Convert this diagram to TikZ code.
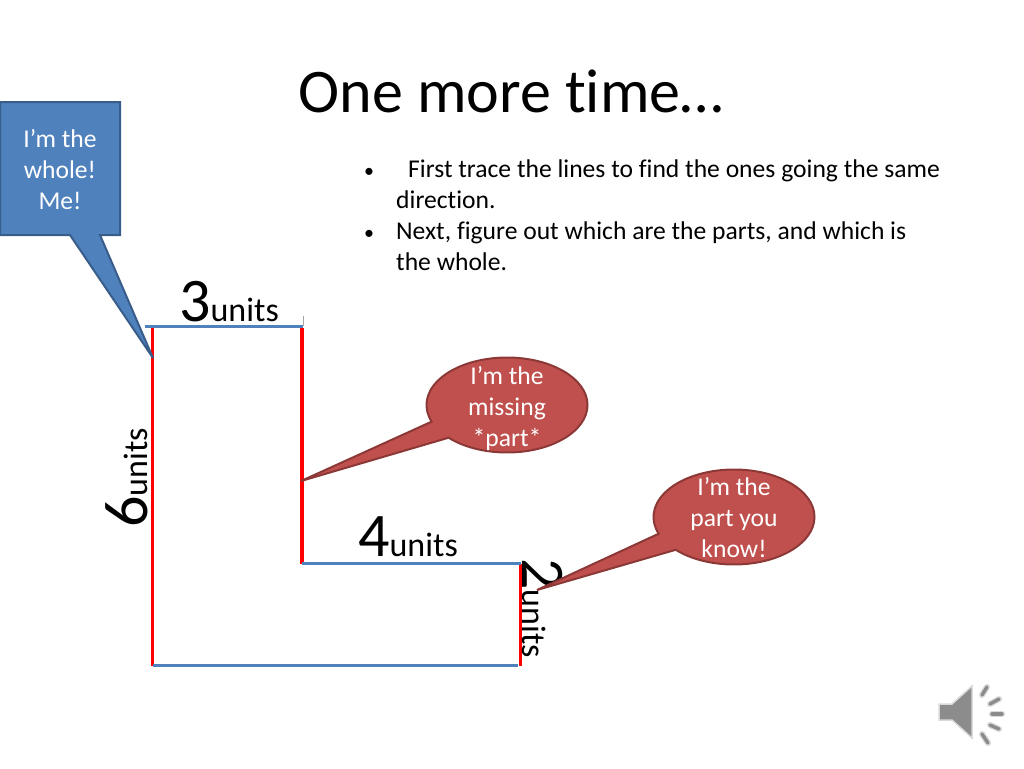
\documentclass[tikz,border=0pt]{standalone}
\usepackage{fontspec}
\setmainfont[Ligatures=NoCommon]{Carlito}
\usetikzlibrary{shapes.geometric,shapes.callouts}
\definecolor{offblue}{HTML}{4F81BD}
\definecolor{offblueline}{HTML}{385D8A}
\definecolor{offred}{HTML}{C0504D}
\definecolor{offredline}{HTML}{8C3836}
\definecolor{pure}{HTML}{FF0000}
\definecolor{speaker}{HTML}{8C8C8C}
\newcommand{\bignum}{\fontsize{62}{66}\selectfont}
\newcommand{\unitword}{\fontsize{34}{38}\selectfont}
\tikzset{
  bodytext/.style={font=\fontsize{25.6}{31}\selectfont, anchor=base west, inner sep=0pt},
  partline/.style={draw=pure, line width=3.8pt},
  dirline/.style={draw=offblue, line width=3.4pt},
  saytext/.style={font=\fontsize{25.6}{31}\selectfont, text=white, align=center},
  talk/.style={ellipse callout, fill=offred, draw=offredline, line width=2pt, inner sep=0pt,
    minimum width=161pt, minimum height=95pt, callout pointer arc=23},
  wave/.style={draw=gray!30, line width=6pt, line cap=round},
  wavein/.style={draw=speaker, line width=3.4pt, line cap=round},
}
\begin{document}
\begin{tikzpicture}[x=1pt,y=-1pt]
\useasboundingbox (0,0) rectangle (1024,768);
% title and the two points
\node[font=\fontsize{62}{66}\selectfont, anchor=base] (title) at (511,112) {One more time…};
\node[bodytext, font=\fontsize{20}{31}\selectfont] (dotA) at (364,177) {•};
\node[bodytext] (lineA) at (408,177.5) {First trace the lines to find the ones going the same};
\node[bodytext] (lineB) at (396,208.5) {direction.};
\node[bodytext, font=\fontsize{20}{31}\selectfont] (dotB) at (364,239) {•};
\node[bodytext] (lineC) at (396,239.5) {Next, figure out which are the parts, and which is};
\node[bodytext] (lineD) at (396,270.5) {the whole.};
% the outline
\coordinate (tl) at (152.5,328);
\coordinate (bl) at (152.5,665.5);
\coordinate (tm) at (302,328);
\coordinate (mm) at (302,563.5);
\coordinate (mr) at (520.5,563.5);
\coordinate (br) at (520.5,665.5);
\draw[gray!70, line width=0.8pt] (303,316) -- (303,326);
\draw[partline] (tl) -- (bl);
\draw[partline] (tm) -- (mm);
\draw[partline] (mr) -- (br);
\draw[dirline] (145,326.5) -- (303,326.5);
\draw[dirline] (mm) -- (mr);
\draw[dirline] (bl) -- (518,665.5);
% the lengths
\node[anchor=base west, inner sep=0pt] (three) at (179,321) {\bignum 3\unitword units};
\node[anchor=base west, inner sep=0pt] (four) at (358,556) {\bignum 4\unitword units};
\node[anchor=base west, inner sep=0pt, rotate=90] (six) at (147,528) {\bignum 6\unitword units};
\node[anchor=base west, inner sep=0pt, rotate=-90] (two) at (522,558) {\bignum 2\unitword units};
% what they say
\draw[fill=offblue, draw=offblueline, line width=2pt]
  (0,102) -- (120,102) -- (120,235) -- (100,235) -- (153,358) -- (70,235) -- (0,235) -- cycle;
\node[saytext] (whole) at (60,170) {I’m the\\whole!\\Me!};
\node[talk, callout absolute pointer={(301,481)}] (missing) at (507,405) {};
\node[saytext] at (507,409) {I’m the\\missing\\*part*};
\node[talk, callout absolute pointer={(537,590)}] (known) at (734,517) {};
\node[saytext] at (734,518) {I’m the\\part you\\know!};
% the speaker
\fill[speaker, draw=gray!30, line width=1.5pt] (939,704) -- (952,704) -- (972,686) -- (972,738) -- (952,720) -- (939,720) -- cycle;
\foreach \xa/\ya/\xb/\yb in {982/695/987/687, 990/704/999/699, 992/714/1002/714, 990/725/999/729, 982/734/988/743} {
  \draw[wave] (\xa,\ya) -- (\xb,\yb);
  \draw[wavein] (\xa,\ya) -- (\xb,\yb);
}
\end{tikzpicture}
\end{document}
